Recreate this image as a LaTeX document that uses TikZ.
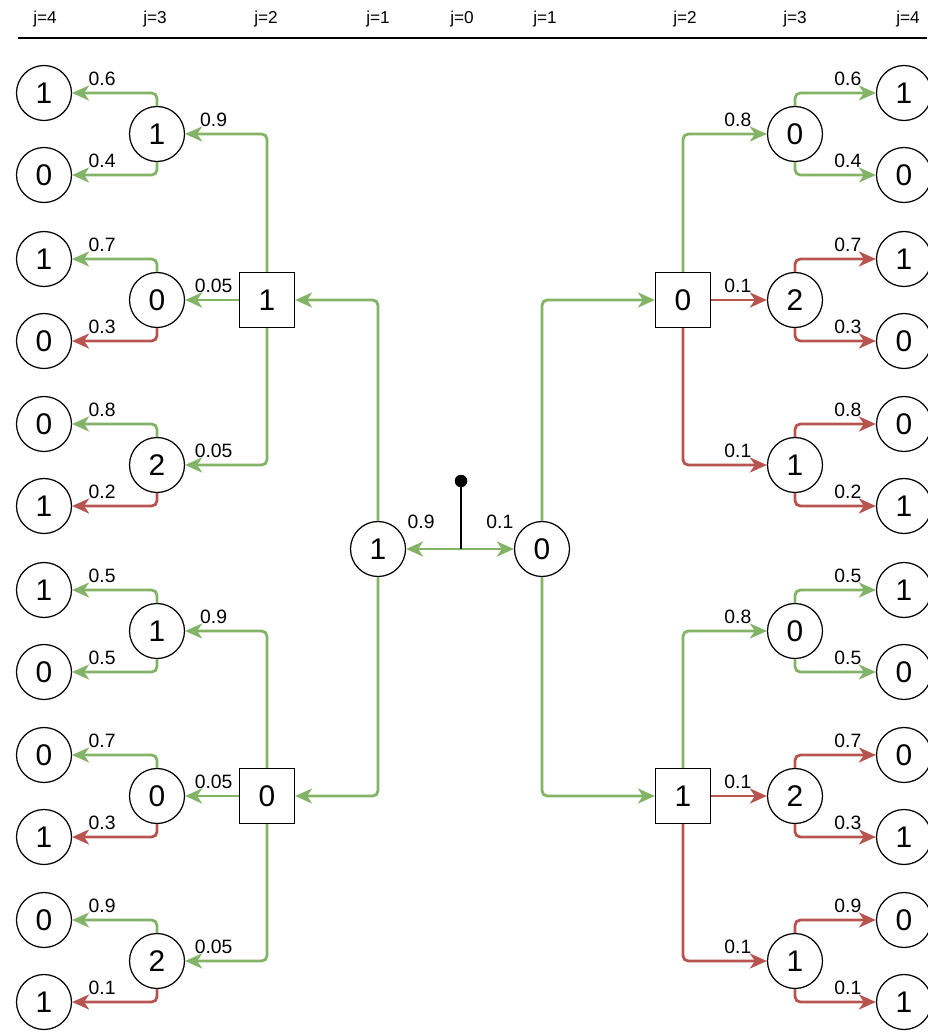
\documentclass[tikz,border=0pt]{standalone}
\usepackage{fontspec}
\setmainfont{Liberation Sans}
\usetikzlibrary{arrows.meta}
\definecolor{gr}{HTML}{82B366}
\definecolor{rd}{HTML}{B85450}
\tikzset{
  cnode/.style={circle, draw, line width=0.7pt, minimum size=1.1cm, inner sep=0pt, font=\fontsize{17}{17}\selectfont},
  snode/.style={rectangle, draw, line width=0.7pt, minimum size=1.1cm, inner sep=0pt, font=\fontsize{17}{17}\selectfont},
  edgeline/.style={line width=1.6pt, rounded corners=3pt, -{Stealth[length=0.34cm,width=0.3cm,inset=0.1cm]}},
  ge/.style={edgeline, draw=gr},
  re/.style={edgeline, draw=rd},
  lbl/.style={font=\fontsize{11}{12}\selectfont, inner sep=0pt},
  hdr/.style={font=\fontsize{9.8}{10}\selectfont, inner sep=0pt},
  lblL/.style={lbl, pos=1, anchor=south, xshift=0.6cm, yshift=0.12cm},
  lblR/.style={lbl, pos=1, anchor=south, xshift=-0.56cm, yshift=0.12cm},
  lblLm/.style={lbl, pos=1, anchor=south, xshift=0.57cm, yshift=0.12cm},
  lblRm/.style={lbl, pos=1, anchor=south, xshift=-0.58cm, yshift=0.12cm},
}
% left group: name, y, value, top leaf, bottom leaf, p top, style top, p bottom, style bottom
\newcommand\grpL[9]{%
  \node[cnode] (#1) at (157,#2) {#3};
  \node[cnode] (#1t) at (44,#2-41) {#4};
  \node[cnode] (#1b) at (44,#2+41) {#5};
  \draw[#7] (#1.north) |- node[lblL] (#1tp) {#6} (#1t.east);
  \draw[#9] (#1.south) |- node[lblL] (#1bp) {#8} (#1b.east);
}
\newcommand\grpR[9]{%
  \node[cnode] (#1) at (795,#2) {#3};
  \node[cnode] (#1t) at (904,#2-41) {#4};
  \node[cnode] (#1b) at (904,#2+41) {#5};
  \draw[#7] (#1.north) |- node[lblR] (#1tp) {#6} (#1t.west);
  \draw[#9] (#1.south) |- node[lblR] (#1bp) {#8} (#1b.west);
}
\begin{document}
\begin{tikzpicture}[x=0.02cm,y=-0.02cm]
\useasboundingbox (0,0) rectangle (927,1034);
% header
\foreach \n/\x/\t in {h1/45/j=4, h2/155/j=3, h3/266/j=2, h4/378/j=1, h5/462/j=0, h6/545/j=1, h7/685/j=2, h8/795/j=3, h9/908/j=4}
  \node[hdr] (\n) at (\x,19) {\t};
\coordinate (hl) at (18,38);
\coordinate (hr) at (927,38);
\draw[line width=1.4pt] (hl) -- (hr);

% left side
\grpL{La}{134}{1}{1}{0}{0.6}{ge}{0.4}{ge}
\grpL{Lb}{300}{0}{1}{0}{0.7}{ge}{0.3}{re}
\grpL{Lc}{465}{2}{0}{1}{0.8}{ge}{0.2}{re}
\grpL{Ld}{631}{1}{1}{0}{0.5}{ge}{0.5}{ge}
\grpL{Le}{796}{0}{0}{1}{0.7}{ge}{0.3}{re}
\grpL{Lf}{961}{2}{0}{1}{0.9}{ge}{0.1}{re}

% right side
\grpR{Ra}{134}{0}{1}{0}{0.6}{ge}{0.4}{ge}
\grpR{Rb}{300}{2}{1}{0}{0.7}{re}{0.3}{re}
\grpR{Rc}{465}{1}{0}{1}{0.8}{re}{0.2}{re}
\grpR{Rd}{631}{0}{1}{0}{0.5}{ge}{0.5}{ge}
\grpR{Re}{796}{2}{0}{1}{0.7}{re}{0.3}{re}
\grpR{Rf}{961}{1}{0}{1}{0.9}{re}{0.1}{re}

% squares
\node[snode] (SL1) at (267,300) {1};
\node[snode] (SL0) at (267,796) {0};
\node[snode] (SR0) at (683,300) {0};
\node[snode] (SR1) at (683,796) {1};

\draw[ge] (SL1.north) |- node[lblLm] (pSL1a) {0.9} (La.east);
\draw[ge] (SL1.west) -- node[lblLm] (pSL1b) {0.05} (Lb.east);
\draw[ge] (SL1.south) |- node[lblLm] (pSL1c) {0.05} (Lc.east);
\draw[ge] (SL0.north) |- node[lblLm] (pSL0a) {0.9} (Ld.east);
\draw[ge] (SL0.west) -- node[lblLm] (pSL0b) {0.05} (Le.east);
\draw[ge] (SL0.south) |- node[lblLm] (pSL0c) {0.05} (Lf.east);

\draw[ge] (SR0.north) |- node[lblRm] (pSR0a) {0.8} (Ra.west);
\draw[re] (SR0.east) -- node[lblRm] (pSR0b) {0.1} (Rb.west);
\draw[re] (SR0.south) |- node[lblRm] (pSR0c) {0.1} (Rc.west);
\draw[ge] (SR1.north) |- node[lblRm] (pSR1a) {0.8} (Rd.west);
\draw[re] (SR1.east) -- node[lblRm] (pSR1b) {0.1} (Re.west);
\draw[re] (SR1.south) |- node[lblRm] (pSR1c) {0.1} (Rf.west);

% j=1 nodes
\node[cnode] (J1L) at (378,549) {1};
\node[cnode] (J1R) at (542,549) {0};
\draw[ge] (J1L.north) |- (SL1.east);
\draw[ge] (J1L.south) |- (SL0.east);
\draw[ge] (J1R.north) |- (SR0.west);
\draw[ge] (J1R.south) |- (SR1.west);

% root
\node[circle, fill=black, inner sep=0pt, minimum size=0.25cm] (dot) at (461,481) {};
\coordinate (rc) at (461,549);
\draw[ge] (rc) -- node[lbl, pos=1, anchor=south, xshift=0.3cm, yshift=0.38cm] (p09) {0.9} (J1L.east);
\draw[ge] (rc) -- node[lbl, pos=1, anchor=south, xshift=-0.28cm, yshift=0.38cm] (p01) {0.1} (J1R.west);
\draw[line width=1.6pt] (dot.center) -- (rc);
\end{tikzpicture}
\end{document}
